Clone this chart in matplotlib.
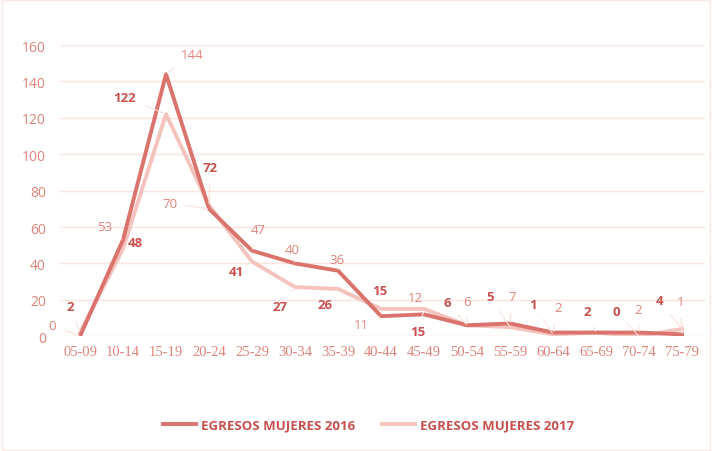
import matplotlib
matplotlib.use("Agg")
import matplotlib.pyplot as plt
from matplotlib.lines import Line2D

# Egresos by age group
grupos = ["05-09", "10-14", "15-19", "20-24", "25-29", "30-34", "35-39", "40-44",
          "45-49", "50-54", "55-59", "60-64", "65-69", "70-74", "75-79"]
mujeres_2016 = [0, 53, 144, 70, 47, 40, 36, 11, 12, 6, 7, 2, 2, 2, 1]
mujeres_2017 = [2, 48, 122, 72, 41, 27, 26, 15, 15, 6, 5, 1, 2, 0, 4]

# label offsets (pixels) for each data label; None hides it
off_2016 = [(-28, 11), (-18, 13), (26, 20), (-39, 5), (6, 21), (-3, 14), (-1, 11),
            (-20, -8), (-9, 17), (0, 24), (2, 27), (5, 25), None, (-1, 23), (-2, 33)]
off_2017 = [(-10, 26), (12, 6), (-41, 17), (1, 38), (-16, -10), (-15, -19), (-13, -16),
            (-1, 18), (-6, -23), (-20, 23), (-20, 31), (-20, 30), (-9, 21), (-23, 25), (-23, 28)]

C_DARK = "#d9736c"
C_LIGHT = "#f4c3be"
C_TEXT = "#e0837a"
C_BOLD = "#c8504e"
C_GRID = "#fbe3e0"

fig = plt.figure(figsize=(7.12, 4.52), dpi=100)
ax = fig.add_axes([0.084, 0.254, 0.906, 0.644])

x = list(range(len(grupos)))
ax.plot(x, mujeres_2017, color=C_LIGHT, lw=2.8, zorder=3)
ax.plot(x, mujeres_2016, color=C_DARK, lw=2.8, zorder=4)

for i, v in enumerate(mujeres_2016):
    if off_2016[i] is None:
        continue
    ax.annotate(str(v), (i, v), xytext=off_2016[i], textcoords="offset pixels",
                ha="center", va="center", fontsize=9.5, color=C_TEXT,
                family="Open Sans",
                arrowprops=dict(arrowstyle="-", color="#fbe0dc", lw=0.8,
                                shrinkA=5, shrinkB=1), zorder=5)
for i, v in enumerate(mujeres_2017):
    ax.annotate(str(v), (i, v), xytext=off_2017[i], textcoords="offset pixels",
                ha="center", va="center", fontsize=9.5, color=C_BOLD,
                fontweight="bold", family="Open Sans",
                arrowprops=dict(arrowstyle="-", color="#fbe0dc", lw=0.8,
                                shrinkA=5, shrinkB=1), zorder=5)

ax.set_xlim(-0.47, 14.53)
ax.set_ylim(0, 160)
ax.set_yticks(range(0, 161, 20))
ax.set_xticks(x)
ax.set_xticklabels(grupos, family="Liberation Serif", fontsize=10.5, color=C_TEXT)
for lbl in ax.get_yticklabels():
    lbl.set_family("Open Sans")
    lbl.set_fontsize(10)
    lbl.set_color(C_TEXT)
ax.tick_params(length=0, pad=6)
ax.tick_params(axis="y", pad=10)
ax.grid(axis="y", color=C_GRID, lw=1)
ax.set_axisbelow(True)
for s in ax.spines.values():
    s.set_visible(False)

handles = [Line2D([], [], color=C_DARK, lw=2.8), Line2D([], [], color=C_LIGHT, lw=2.8)]
fig.legend(handles, ["EGRESOS MUJERES 2016", "EGRESOS MUJERES 2017"],
           loc="center", bbox_to_anchor=(0.518, 0.058), ncol=2, frameon=False,
           handlelength=2.5, handletextpad=0.4, columnspacing=2.0,
           prop=dict(family="Open Sans", weight="bold", size=9.5),
           labelcolor=C_BOLD)

fig.patches.append(plt.Rectangle((0.003, 0.003), 0.994, 0.994, transform=fig.transFigure,
                                 fill=False, edgecolor="#fbe6e3", lw=1))
fig.savefig("out.png", dpi=100)
